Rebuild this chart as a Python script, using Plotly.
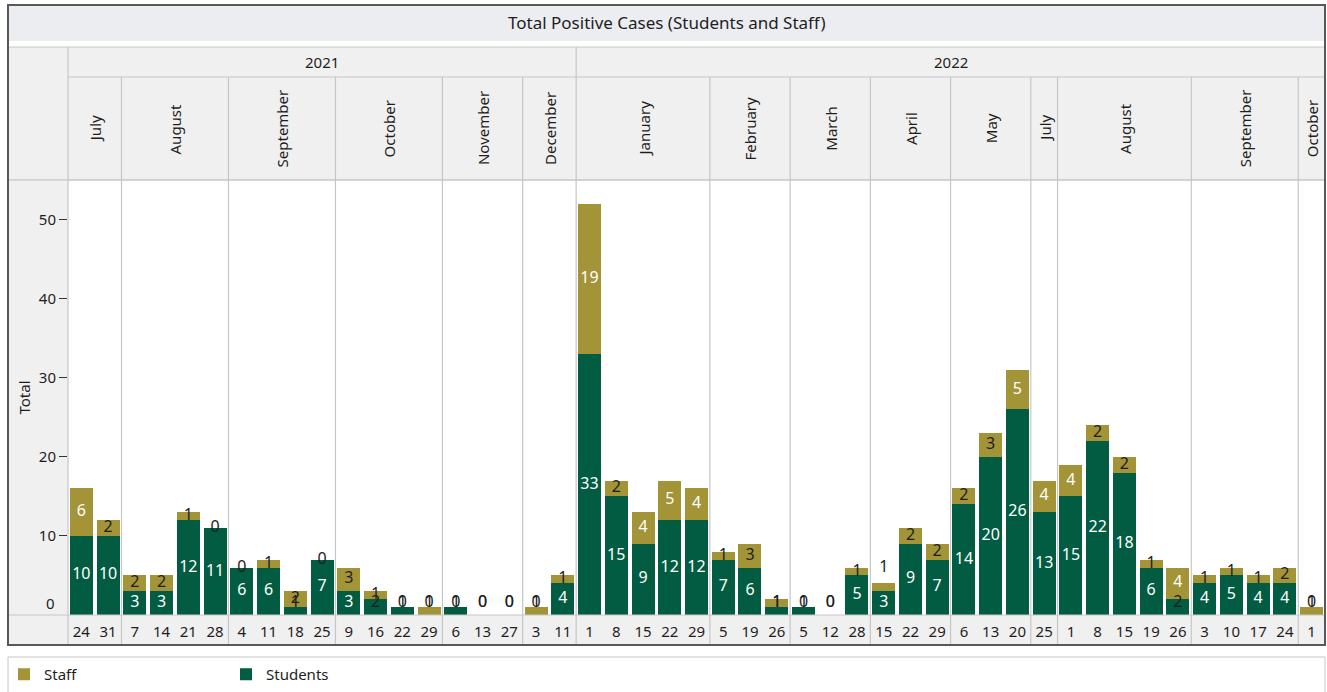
import plotly.graph_objects as go
from itertools import groupby

# ---------------- data ----------------
year = ["2021", "2021", "2021", "2021", "2021", "2021", "2021", "2021", "2021", "2021",
        "2021", "2021", "2021", "2021", "2021", "2021", "2021", "2021", "2021",
        "2022", "2022", "2022", "2022", "2022", "2022", "2022", "2022", "2022", "2022",
        "2022", "2022", "2022", "2022", "2022", "2022", "2022", "2022", "2022", "2022",
        "2022", "2022", "2022", "2022", "2022", "2022", "2022", "2022"]
month = ["July", "July",
         "August", "August", "August", "August",
         "September", "September", "September", "September",
         "October", "October", "October", "October",
         "November", "November", "November",
         "December", "December",
         "January", "January", "January", "January", "January",
         "February", "February", "February",
         "March", "March", "March",
         "April", "April", "April",
         "May", "May", "May",
         "July",
         "August", "August", "August", "August", "August",
         "September", "September", "September", "September",
         "October"]
day = ["24", "31", "7", "14", "21", "28", "4", "11", "18", "25", "9", "16", "22", "29",
       "6", "13", "27", "3", "11",
       "1", "8", "15", "22", "29", "5", "19", "26", "5", "12", "28", "15", "22", "29",
       "6", "13", "20", "25", "1", "8", "15", "19", "26", "3", "10", "17", "24", "1"]
students = [10, 10, 3, 3, 12, 11, 6, 6, 1, 7, 3, 2, 1, 0, 1, 0, 0, 0, 4,
            33, 15, 9, 12, 12, 7, 6, 1, 1, 0, 5, 3, 9, 7, 14, 20, 26, 13,
            15, 22, 18, 6, 2, 4, 5, 4, 4, 0]
staff = [6, 2, 2, 2, 1, 0, 0, 1, 2, 0, 3, 1, 0, 1, 0, 0, 0, 1, 1,
         19, 2, 4, 5, 4, 1, 3, 1, 0, 0, 1, 1, 2, 2, 2, 3, 5, 4,
         4, 2, 2, 1, 4, 1, 1, 1, 2, 1]
y_ticks = [10, 20, 30, 40, 50]

# ---------------- style ----------------
GREEN = "#015C41"
GOLD = "#A39438"
HDR = "#F0F0F0"
GRID = "#C6C6C6"
DARK = "#1E1E1E"
FONT = "Segoe UI, Noto Sans, sans-serif"

W, H = 1327, 692
L, R, T, B = 68, 1325, 180, 615


def X(px):
    return (px - L) / (R - L)


def Y(py):
    return (B - py) / (B - T)


n = len(day)
xs = list(range(n))

fig = go.Figure()
fig.add_trace(go.Bar(x=xs, y=students, name="Students", marker_color=GREEN,
                     marker_line_width=0, hoverinfo="y+name"))
fig.add_trace(go.Bar(x=xs, y=staff, name="Staff", marker_color=GOLD,
                     marker_line_width=0, hoverinfo="y+name"))

# value labels (centred in each segment; a staff label that would collide with a
# white students label inside the bar is lifted just above the bar)
stu_y = [max(s / 2, 1.5) for s in students]
stf_y = []
for s, t, sy in zip(students, staff, stu_y):
    ty = max(s + t / 2, 1.5)
    if s >= 3 and ty - sy < 2.2:
        ty = s + t + 2.0
    stf_y.append(ty)
stu_c = ["white" if s >= 3 else DARK for s in students]
stf_c = ["white" if t >= 4 else DARK for t in staff]
fig.add_trace(go.Scatter(x=xs, y=stu_y, mode="text", text=[str(v) for v in students],
                         textfont=dict(color=stu_c, size=16, family=FONT),
                         showlegend=False, hoverinfo="skip"))
fig.add_trace(go.Scatter(x=xs, y=stf_y, mode="text", text=[str(v) for v in staff],
                         textfont=dict(color=stf_c, size=16, family=FONT),
                         showlegend=False, hoverinfo="skip"))

shapes = []
# title band
shapes.append(dict(type="rect", xref="paper", yref="paper", x0=X(9), x1=X(1324), y0=Y(6), y1=Y(41),
                   fillcolor="#EBEDF0", line_width=0, layer="below"))
# header block
shapes.append(dict(type="rect", xref="paper", yref="paper", x0=X(8), x1=X(1325), y0=Y(47), y1=Y(180),
                   fillcolor=HDR, line=dict(color=GRID, width=1), layer="below"))
# left column next to plot
shapes.append(dict(type="rect", xref="paper", yref="paper", x0=X(8), x1=X(68), y0=Y(180), y1=Y(615),
                   fillcolor=HDR, line_width=0, layer="below"))
# x axis row
shapes.append(dict(type="rect", xref="paper", yref="paper", x0=X(8), x1=X(1325), y0=Y(615), y1=Y(645),
                   fillcolor=HDR, line_width=0, layer="below"))
# horizontal lines
for py, x0 in [(77, 68), (180, 8), (615, 8)]:
    shapes.append(dict(type="line", xref="paper", yref="paper", x0=X(x0), x1=X(1325), y0=Y(py), y1=Y(py),
                       line=dict(color=GRID, width=1.2)))
# left axis border
shapes.append(dict(type="line", xref="paper", yref="paper", x0=X(68), x1=X(68), y0=Y(47), y1=Y(645),
                   line=dict(color=GRID, width=1.2)))

annotations = []
# month / year groups
pos = 0
for (yr, mo), grp in groupby(zip(year, month)):
    k = len(list(grp))
    center = pos + (k - 1) / 2
    annotations.append(dict(x=center, y=Y(128.5), xref="x", yref="paper", text=mo, textangle=-90,
                            xanchor="center", yanchor="middle",
                            showarrow=False, font=dict(size=15, color=DARK, family=FONT)))
    end = pos + k
    if end < n:
        year_break = year[end] != yr
        shapes.append(dict(type="line", xref="x", yref="paper", x0=end - 0.5, x1=end - 0.5,
                           y0=Y(47 if year_break else 77), y1=Y(645),
                           line=dict(color=GRID, width=1.2)))
    pos = end

pos = 0
for yr, grp in groupby(year):
    k = len(list(grp))
    annotations.append(dict(x=pos + (k - 1) / 2, y=Y(62), xref="x", yref="paper", text=yr,
                            xanchor="center", yanchor="middle",
                            showarrow=False, font=dict(size=15, color=DARK, family=FONT)))
    pos += k

# title
annotations.append(dict(x=X(667), y=Y(22), xref="paper", yref="paper", xanchor="center", yanchor="middle",
                        text="Total Positive Cases (Students and Staff)", showarrow=False,
                        font=dict(size=17, color=DARK, family=FONT)))
# zero label (drawn raised, as in the source chart)
annotations.append(dict(x=X(57), y=0, xref="paper", yref="y", yshift=12, xanchor="right", yanchor="middle",
                        text="0", showarrow=False, font=dict(size=15, color=DARK, family=FONT)))

# outer frame
shapes.append(dict(type="rect", xref="paper", yref="paper", x0=X(8), x1=X(1325), y0=Y(5), y1=Y(645),
                   line=dict(color="#585858", width=2), fillcolor="rgba(0,0,0,0)", layer="above"))
# legend box
shapes.append(dict(type="rect", xref="paper", yref="paper", x0=X(8), x1=X(1325), y0=Y(657), y1=Y(705),
                   line=dict(color=GRID, width=1), fillcolor="white", layer="below"))

fig.update_layout(
    width=W, height=H,
    margin=dict(l=L, r=W - R, t=T, b=H - B, pad=0, autoexpand=False),
    barmode="stack", bargap=0.14,
    paper_bgcolor="white", plot_bgcolor="white",
    font=dict(family=FONT, size=15, color=DARK),
    shapes=shapes, annotations=annotations,
    showlegend=True,
    legend=dict(orientation="h", x=X(4), y=Y(658), xanchor="left", yanchor="top",
                traceorder="reversed", entrywidth=177, entrywidthmode="pixels",
                font=dict(size=15, color=DARK, family=FONT), bgcolor="rgba(0,0,0,0)"),
    xaxis=dict(range=[-0.5, n - 0.5], tickmode="array", tickvals=xs, ticktext=day,
               tickfont=dict(size=15, color=DARK), ticks="", showgrid=False, zeroline=False,
               showline=False, ticklabelstandoff=6, fixedrange=True, automargin=False),
    yaxis=dict(range=[0, 55], tickmode="array", tickvals=y_ticks, ticks="outside", ticklen=8,
               tickcolor="#333333", tickwidth=1.2, tickfont=dict(size=15, color=DARK),
               showgrid=False, zeroline=False, showline=False, fixedrange=True, automargin=False,
               title=dict(text="Total", font=dict(size=15, color=DARK), standoff=4)),
)

fig.write_html("out.html", config={"displayModeBar": False},
               post_script="document.body.style.margin='0';document.body.style.overflow='hidden';")
